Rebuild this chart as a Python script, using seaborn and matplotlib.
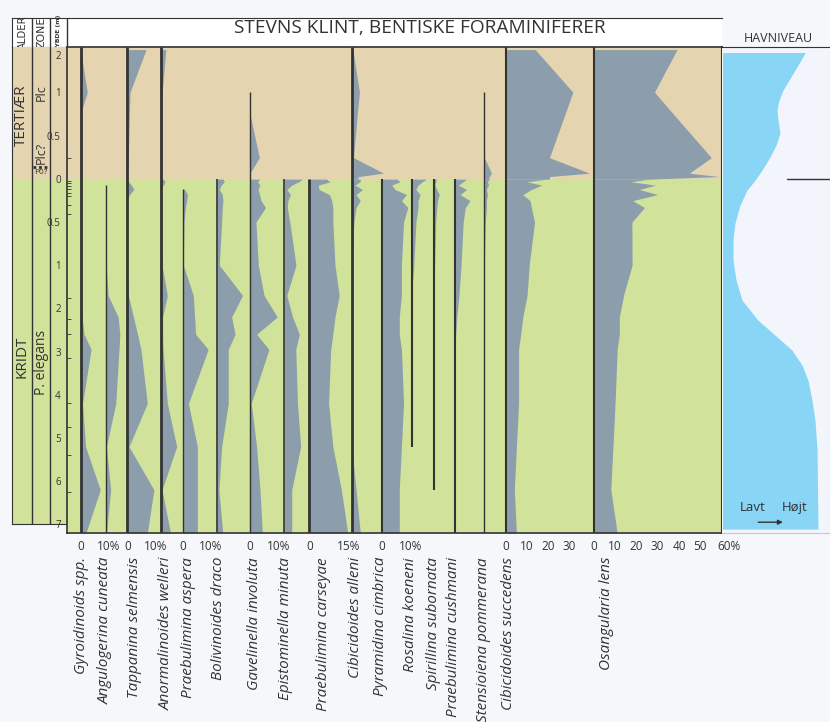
import numpy as np
import matplotlib
matplotlib.use("Agg")
import matplotlib.pyplot as plt
from matplotlib.transforms import ScaledTranslation
import seaborn as sns

sns.set_style("white")
plt.rcParams['font.family'] = ['Open Sans', 'DejaVu Sans']

# sample levels: height above (tertiary) / depth below (kridt) the boundary, m
TERT_H = [2.15, 1.0, 0.75, 0.25, 0.07, 0.03, 0.0]
KRIDT_D = [0.0, 0.03, 0.07, 0.12, 0.18, 0.25, 0.33, 0.5, 1.0, 1.7, 2.2, 2.6, 2.95, 4.2, 5.2, 6.2, 7.2]

species = ["Gyroidinoids spp.", "Angulogerina cuneata", "Tappanina selmensis",
           "Anormalinoides welleri", "Praebulimina aspera", "Bolivinoides draco",
           "Gavelinella involuta", "Epistominella minuta", "Praebulimina carseyae",
           "Cibicidoides alleni", "Pyramidina cimbrica", "Rosalina koeneni",
           "Spirillina subornata", "Praebulimina cushmani", "Stensioiena pommerana",
           "Cibicidoides succedens", "Osangularia lens"]

N = None
# relative abundance (%)
gyro_t = [0, 3.1, 0, 0, 0, 0, 0]
gyro_k = [0, 0, 0, 0, 0, 0, 0, 0, 0, 0, 0.7, 1.6, 4.9, 0.9, 2.3, 9.2, 2.5]
angul_t = [N] * 7
angul_k = [N, N, 0, 0, 0, 0, 0, 0, 0.2, 1.1, 5.8, 6.6, 6.2, 4.7, 0.3, 2.3, 0.3]
tappan_t = [8.8, 1.3, 1.0, 0.5, 0, 0, 0]
tappan_k = [0, 0.5, 2.0, 3.1, 1.0, 0, 0, 0, 0, 0.5, 2.9, 4.8, 6.4, 9.4, 0.8, 12.5, 9.4]
anorm_t = [2.3, 0.6, 0, 0, 0, 0, 0]
anorm_k = [1.0, 2.0, 1.0, 0, 0, 0, 0, 0, 0.5, 3.0, 0.8, 0.8, 1.0, 3.0, 7.4, 0.5, 4.5]
aspera_t = [N] * 7
aspera_k = [N, N, N, 1.0, 2.3, 1.9, 1.3, 0.6, 0.3, 5.0, 5.6, 6.1, 12.0, 2.7, 6.9, 6.9, 6.9]
bolivin_t = [N] * 7
bolivin_k = [3.0, 3.4, 2.0, 1.1, 2.5, 2.8, 2.5, 2.2, 1.1, 12.0, 6.9, 8.5, 5.3, 5.3, 2.2, 0.9, 2.7]
gavel_t = [N, 0, 0, 4.4, 0, 0, 0]
gavel_k = [4.7, 3.5, 4.7, 3.8, 4.5, 5.2, 7.3, 2.8, 3.9, 6.6, 12.8, 3.1, 8.9, 0.6, 3.1, 4.7, 5.8]
epist_t = [N] * 7
epist_k = [8.6, 7.0, 3.6, 1.3, 3.0, 1.8, 1.5, 2.7, 5.6, 1.3, 4.0, 7.2, 5.5, 6.3, 7.8, 3.6, 3.6]
carsey_t = [N] * 7
carsey_k = [8.0, 9.7, 4.2, 4.5, 9.4, 10.5, 11.0, 11.0, 12.0, 14.0, 12.0, 11.0, 10.0, 9.0, 11.0, 15.0, 18.0]
alleni_t = [0.5, 3.6, 2.6, 0.8, 14.9, 3.0, 3.0]
alleni_k = [4.0, 3.9, 1.5, 5.0, 2.0, 4.0, 2.0, 1.0, 0, 0, 0, 0, 0, 0, 0, 2.0, 4.0]
pyram_t = [N] * 7
pyram_k = [7.0, 8.3, 4.4, 6.0, 11.4, 9.0, 12.0, 10.0, 9.0, 9.0, 8.0, 8.0, 9.0, 10.0, 9.0, 8.0, 8.0]
rosal_t = [N] * 7
rosal_k = [7.0, 5.0, 3.0, 2.0, 4.0, 3.0, 3.0, 2.0, 1.0, 0, 0, 0, 0, 0, 0, N, N]
spir_t = [N] * 7
spir_k = [1.4, 1.0, 0.6, 1.5, 2.7, 1.8, 1.5, 1.0, 0.5, 0, 0, 0, 0, 0, 0, 0, N]
cushm_t = [N] * 7
cushm_k = [5.6, 4.0, 1.7, 5.6, 2.5, 7.2, 5.0, 4.0, 3.0, 2.0, 1.0, 0.5, 0, 0, 0, 0, 0]
stens_t = [N, 0, 0, 0, 3.4, 2.3, 2.3]
stens_k = [2.3, 1.5, 2.0, 1.0, 1.5, 1.0, 1.0, 0.5, 0, 0, 0, 0, 0, 0, 0, 0, 0]
succed_t = [13.8, 31.5, 27.8, 20.5, 39.3, 20.5, 20.5]
succed_k = [19.3, 9.9, 16.9, 12.0, 8.0, 11.4, 12.0, 13.5, 11.0, 10.0, 8.0, 7.0, 6.0, 6.0, 5.0, 4.0, 5.0]
osang_t = [39.1, 28.5, 37.4, 55.2, 44.9, 59.0, 26.0]
osang_k = [26.0, 17.4, 29.0, 21.4, 30.0, 18.3, 23.8, 17.9, 18.0, 14.0, 12.0, 12.0, 11.0, 10.0, 9.0, 8.0, 11.0]

tert_vals = [gyro_t, angul_t, tappan_t, anorm_t, aspera_t, bolivin_t, gavel_t, epist_t,
             carsey_t, alleni_t, pyram_t, rosal_t, spir_t, cushm_t, stens_t, succed_t, osang_t]
kridt_vals = [gyro_k, angul_k, tappan_k, anorm_k, aspera_k, bolivin_k, gavel_k, epist_k,
              carsey_k, alleni_k, pyram_k, rosal_k, spir_k, cushm_k, stens_k, succed_k, osang_k]

# sea level curve (relative, 0 = lavt, 100 = hojt)
sea_h = [2.07, 2.054, 1.595, 1.054, 0.909, 0.795, 0.682, 0.534, 0.395, 0.256, 0.105, -0.012,
         -0.128, -0.302, -0.512, -0.709, -0.942, -1.347, -1.81, -2.273, -2.62, -2.968,
         -3.315, -3.662, -4.125, -4.588, -5.282, -7.11]
sea_level = [76.9, 76.9, 67.6, 56.5, 52.8, 50.9, 51.9, 53.7, 50.0, 44.4, 37.0, 30.6,
             23.1, 16.7, 12.0, 10.2, 10.2, 13.0, 18.5, 33.3, 49.1, 64.8,
             74.1, 79.6, 83.3, 86.1, 88.0, 88.9]

# ---- layout -------------------------------------------------------------
W, H = 830, 722
TAN, GREEN, GREY, BLUE, INK = "#e5d4b0", "#d1e29a", "#8c9eab", "#89d5f6", "#333333"
NARROW = ['Liberation Sans Narrow', 'DejaVu Sans Condensed', 'DejaVu Sans']
# baseline of every species in percent units along the shared x axis
offsets = [0.3, 12.1, 22.2, 38.0, 48.2, 64.3, 79.8, 95.8, 107.7, 127.6, 141.9, 155.7,
           166.0, 175.9, 189.8, 199.9, 241.2]
line_w = [2, 1, 2, 2, 1, 1.2, 1, 1.2, 2, 2, 1.5, 1.5, 1.5, 1.5, 1, 1.5, 1.5]
name_x = [81, 105, 134, 166, 188, 218, 255, 285, 323, 355, 380, 410, 433, 453, 483, 508, 606]
# (species index, tick max, labelled ticks)
scales = [(0, 10, {0: "0", 10: "10%"}), (2, 10, {0: "0", 10: "10%"}),
          (4, 10, {0: "0", 10: "10%"}), (6, 10, {0: "0", 10: "10%"}),
          (8, 15, {0: "0", 15: "15%"}), (10, 10, {0: "0", 10: "10%"}),
          (15, 30, {0: "0", 10: "10", 20: "20", 30: "30"}),
          (16, 60, {0: "0", 10: "10", 20: "20", 30: "30", 40: "40", 50: "50", 60: "60%"})]
PX_PER_PCT = 2.13

H_KNOTS = [-9, -1, 0, 0.5, 1, 2, 4]
P_KNOTS = [-(265 + 43.2 * 8), -265, -179, -136, -92, -55, 19]


def fwd(h):
    return np.interp(h, H_KNOTS, P_KNOTS)


def inv(p):
    return np.interp(p, P_KNOTS, H_KNOTS)


def rect(x0, y0, x1, y1):
    return [x0 / W, 1 - y1 / H, (x1 - x0) / W, (y1 - y0) / H]


TOP_H, BOT_H = 2.22, -7.2

fig = plt.figure(figsize=(W / 100, H / 100), dpi=100, facecolor="#f5f7fb")

# header
hd = fig.add_axes(rect(12, 18, 722, 47))
hd.set_xlim(12, 722)
hd.set_ylim(0, 1)
hd.set_facecolor("white")
hd.set_xticks([])
hd.set_yticks([])
hd.spines["right"].set_visible(False)
for s in ["top", "left", "bottom"]:
    hd.spines[s].set_color(INK)
for xv in [32, 50, 67]:
    hd.axvline(xv, color=INK, lw=1)
hd.text(22.5, 0.5, "ALDER", rotation=90, ha="center", va="center", fontsize=7.3,
        color=INK, family=NARROW)
hd.text(41.5, 0.5, "ZONE", rotation=90, ha="center", va="center", fontsize=7.8,
        color=INK, family=NARROW)
hd.text(58.5, 0.5, "DYBDE (m)", rotation=90, ha="center", va="center", fontsize=4.3,
        color=INK, fontweight="bold", family=NARROW)
fig.text(420 / W, 1 - 28 / H, "STEVNS KLINT, BENTISKE FORAMINIFERER", ha="center",
         va="center", fontsize=13.8, color=INK)
fig.text(778 / W, 1 - 38 / H, "HAVNIVEAU", ha="center", va="center", fontsize=9, color=INK)

# age / zone columns
lc = fig.add_axes(rect(12, 47, 67, 524.2))
lc.set_yscale("function", functions=(fwd, inv))
lc.set_ylim(-7.0, TOP_H)
lc.set_xlim(12, 67)
lc.axhspan(0, TOP_H, color=TAN, lw=0)
lc.axhspan(-7.0, 0, color=GREEN, lw=0)
for xv in [32, 50]:
    lc.axvline(xv, color=INK, lw=1)
lc.set_xticks([])
lc.set_yticks([])
for s in lc.spines.values():
    s.set_color(INK)
lc.spines["top"].set_visible(False)
lc.text(21.5, 0.74, "TERTIÆR", rotation=90, ha="center", va="center", fontsize=11, color=INK)
lc.text(21.5, -3.13, "KRIDT", rotation=90, ha="center", va="center", fontsize=11, color=INK)
lc.text(41, 1.0, "Plc", rotation=90, ha="center", va="center", fontsize=9, color=INK)
lc.text(41, 0.31, "Plc?", rotation=90, ha="center", va="center", fontsize=9, color=INK)
lc.text(41, 0.075, "P0?", ha="center", va="center", fontsize=6, color=INK)
lc.plot([33, 49.5], [0.14, 0.14], color=INK, lw=2, ls=(0, (1, 1)))
lc.text(41, -3.25, "P. elegans", rotation=90, ha="center", va="center", fontsize=10, color=INK)

# species panel
ax = fig.add_axes(rect(67, 47, 722, 533))
ax.set_yscale("function", functions=(fwd, inv))
ax.set_ylim(BOT_H, TOP_H)
ax.set_xlim((67 - 80) / PX_PER_PCT, (722 - 80) / PX_PER_PCT)
ax.axhspan(0, TOP_H, color=TAN, lw=0, zorder=0)
ax.axhspan(BOT_H, 0, color=GREEN, lw=0, zorder=0)

t_h = np.array(TERT_H)
k_h = -np.array(KRIDT_D)
for off, tv, kv, lw in zip(offsets, tert_vals, kridt_vals, line_w):
    tv = np.array([np.nan if v is None else v for v in tv], dtype=float)
    kv = np.array([np.nan if v is None else v for v in kv], dtype=float)
    hs, he = [], []
    for hh, vv in [(t_h, tv), (k_h, kv)]:
        m = ~np.isnan(vv)
        if m.any():
            ax.fill_betweenx(hh[m], off, off + vv[m], color=GREY, lw=0, zorder=2)
            hs.append(hh[m].max())
            he.append(hh[m].min())
    top = max(hs)
    top = TOP_H if top >= 2.0 else top
    bot = min(he)
    bot = BOT_H if bot <= -7.1 else bot
    ax.plot([off, off], [bot, top], color=INK, lw=lw, zorder=3, solid_capstyle="butt")

for s in ax.spines.values():
    s.set_color(INK)
    s.set_linewidth(1.2)
ax.spines["right"].set_linewidth(1.5)

# depth axis
major = [2, 1, 0.5, 0, -0.5, -1, -2, -3, -4, -5, -6, -7]
ax.set_yticks(major)
ax.set_yticklabels([("%g" % abs(v)) for v in major])
ax.set_yticks([0.25, -0.02, -0.05, -0.08, -0.12, -0.16, -0.2, -0.3, -0.4, -1.75, -2.25,
               -2.6, -3.15, -4.2, -4.75, -5.4, -6.25], minor=True)
ax.tick_params(axis="y", which="major", direction="out", length=3, labelsize=7,
               colors=INK, pad=1.5)
ax.tick_params(axis="y", which="minor", direction="in", length=3, color=INK, left=True)

# percent axes
xt, xl = [], []
for idx, mx, labels in scales:
    for v in range(0, mx + 1, 5):
        xt.append(offsets[idx] + v)
        xl.append(labels.get(v, ""))
ax.set_xticks(xt)
ax.set_xticklabels(xl)
ax.tick_params(axis="x", direction="out", length=3, labelsize=8.5, colors=INK, pad=2)
for lbl in ax.get_xticklabels():
    if "%" in lbl.get_text():
        lbl.set_transform(lbl.get_transform() + ScaledTranslation(5 / 72, 0, fig.dpi_scale_trans))

for nm, xp in zip(species, name_x):
    fig.text(xp / W, 1 - 557 / H, nm, rotation=90, ha="center", va="top", fontsize=11,
             style="italic", color=INK)

# sea level
sl = fig.add_axes(rect(722, 47, 830, 533))
sl.set_yscale("function", functions=(fwd, inv))
sl.set_ylim(BOT_H, TOP_H)
sl.set_xlim(0, 100)
sl.set_facecolor("#f2f5fb")
sl.fill_betweenx(sea_h, 0.5, sea_level, color=BLUE, lw=0)
sl.plot([60, 100], [0, 0], color=INK, lw=1)
sl.set_xticks([])
sl.set_yticks([])
for s in sl.spines.values():
    s.set_color("#c8c8c8")
sl.spines["top"].set_color(INK)
sl.spines["left"].set_visible(False)
sl.text(28, -6.62, "Lavt", ha="center", va="center", fontsize=9.5, color=INK)
sl.text(67, -6.62, "Højt", ha="center", va="center", fontsize=9.5, color=INK)
sl.annotate("", xy=(59, -6.95), xytext=(31, -6.95),
            arrowprops=dict(arrowstyle="-|>", color=INK, lw=1, mutation_scale=7))

fig.savefig("out.png", dpi=100, facecolor=fig.get_facecolor())
